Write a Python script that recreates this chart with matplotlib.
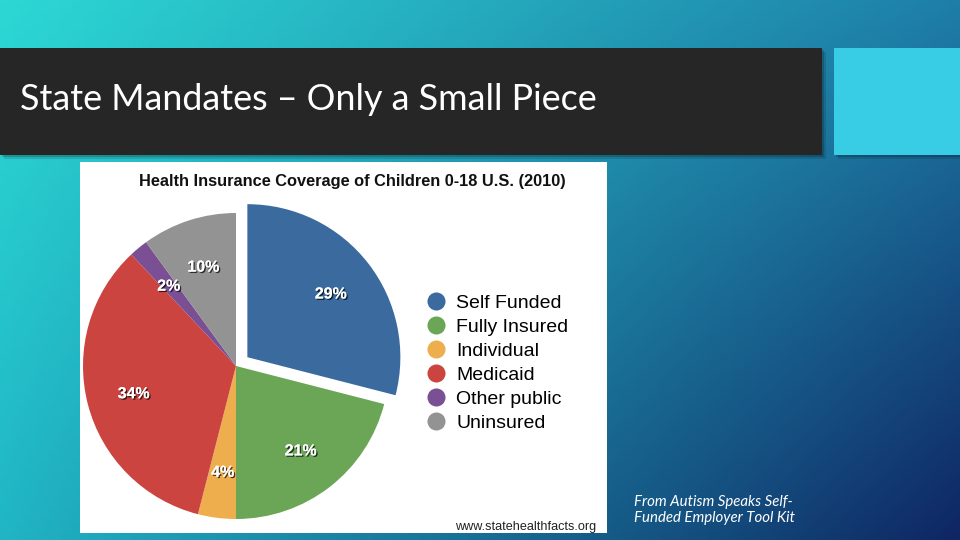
import numpy as np
import matplotlib
matplotlib.use('Agg')
import matplotlib.pyplot as plt
import matplotlib.patheffects as pe
from matplotlib.patches import Rectangle
from matplotlib.lines import Line2D

# data
labels = ['Self Funded', 'Fully Insured', 'Individual', 'Medicaid', 'Other public', 'Uninsured']
shares = [29, 21, 4, 34, 2, 10]
colors = ['#3b6a9f', '#6aa655', '#eeae4e', '#cc4440', '#7b4f93', '#939393']
explode = [0.094, 0, 0, 0, 0, 0]

slide_title = 'State Mandates \u2013 Only a Small Piece'
chart_title = 'Health Insurance Coverage of Children 0-18 U.S. (2010)'
source = 'www.statehealthfacts.org'
note = 'From Autism Speaks Self-\nFunded Employer Tool Kit'

W, H = 960, 540
fig = plt.figure(figsize=(9.6, 5.4), dpi=100)

def fx(x):
    return x / W

def fy(y):
    return 1 - y / H

# background gradient (bilinear between corner colours)
bg = fig.add_axes([0, 0, 1, 1])
bg.set_axis_off()
tl = np.array(matplotlib.colors.to_rgb('#2cd8d4'))
tr = np.array(matplotlib.colors.to_rgb('#1e7ea8'))
bl = np.array(matplotlib.colors.to_rgb('#20b5c5'))
br = np.array(matplotlib.colors.to_rgb('#0f2663'))
u = np.linspace(0, 1, 200)[None, :, None]
v = np.linspace(0, 1, 120)[:, None, None]
img = (1 - v) * ((1 - u) * tl + u * tr) + v * ((1 - u) * bl + u * br)
bg.imshow(img, extent=[0, 1, 0, 1], aspect='auto', origin='upper')
bg.set_xlim(0, 1)
bg.set_ylim(0, 1)

# title bar + accent square with soft shadows
for dx, a in [(4, 0.12), (2, 0.18)]:
    bg.add_patch(Rectangle((fx(0 + dx), fy(155 + dx)), fx(822), 107 / H, color='black', alpha=a, lw=0))
    bg.add_patch(Rectangle((fx(834 + dx), fy(155 + dx)), fx(126), 107 / H, color='black', alpha=a, lw=0))
bg.add_patch(Rectangle((0, fy(155)), fx(822), 107 / H, color='#262626', lw=0))
bg.add_patch(Rectangle((fx(834), fy(155)), fx(126), 107 / H, color='#38cde4', lw=0))
fig.text(fx(20), fy(100), slide_title, color='white', fontsize=25.8, family=['Lato', 'DejaVu Sans'],
         va='center', ha='left')

# white picture panel
panel = fig.add_axes([fx(80), fy(533), fx(527), 371 / H])
panel.set_facecolor('white')
panel.set_xticks([])
panel.set_yticks([])
for s in panel.spines.values():
    s.set_visible(False)

fig.text(fx(352), fy(181), chart_title, fontsize=11.8, fontweight='bold', family=['Liberation Sans', 'DejaVu Sans'],
         ha='center', va='center', color='#111111')
fig.text(fx(596), fy(527), source, fontsize=9.1, family=['Liberation Sans', 'DejaVu Sans'],
         ha='right', va='center', color='#222222')

# pie
R = 153
lim = 1.2
cx, cy = 236, 366
side = 2 * lim * R
ax = fig.add_axes([fx(cx - side / 2), fy(cy + side / 2), side / W, side / H])
wedges, texts, autotexts = ax.pie(shares, colors=colors, explode=explode, startangle=90,
                                  counterclock=False, autopct='%d%%', pctdistance=0.69,
                                  wedgeprops=dict(linewidth=0),
                                  textprops=dict(color='white', fontsize=11.5, fontweight='bold',
                                                 family=['Liberation Sans', 'DejaVu Sans']))
for t in autotexts:
    t.set_va('center_baseline')
    t.set_path_effects([pe.withSimplePatchShadow(offset=(1, -1), shadow_rgbFace='black', alpha=0.7),
                        pe.Normal()])
ax.set_xlim(-lim, lim)
ax.set_ylim(-lim, lim)
ax.set_aspect('equal')
ax.set_axis_off()

handles = [Line2D([], [], marker='o', linestyle='none', markersize=13, markerfacecolor=c,
                  markeredgewidth=0) for c in colors]
fig.legend(handles, labels, loc='upper left', bbox_to_anchor=(fx(424), fy(294)), frameon=False,
           prop=dict(family=['Liberation Sans', 'DejaVu Sans'], size=14), labelspacing=0.33,
           handletextpad=0.45, handlelength=1.2, borderpad=0, borderaxespad=0)

# footnote
fig.text(fx(634), fy(510), note, color='white', fontsize=10.8, style='italic',
         family=['Lato', 'DejaVu Sans'], ha='left', va='center', linespacing=1.1)

fig.savefig('out.png', dpi=100)
